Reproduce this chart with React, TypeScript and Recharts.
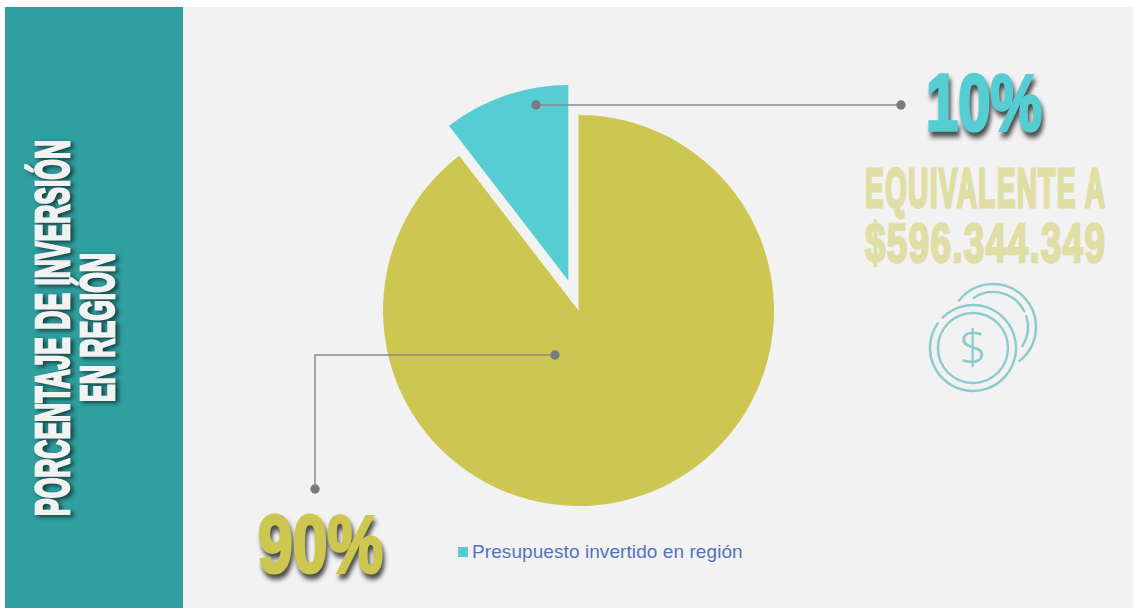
import { Cell, Legend, Pie, PieChart, Sector } from 'recharts'

const categories = ['Resto del presupuesto', 'Presupuesto invertido en región']
const shares = [89.55, 10.45]
const colors = ['#cdc752', '#55cdd3']

const chartData = categories.map((name, i) => ({ name, value: shares[i] }))
const total = shares.reduce((a, b) => a + b, 0)

const CONDENSED = '"Liberation Sans", sans-serif'
const RAD = Math.PI / 180

// leader lines: dot in the slice -> dot near the big number
const leaders = [
  [[555, 355], [315, 355], [315, 489]],
  [[536, 105], [901, 105]],
]
const bigText = [
  { x: 258, y: 572, len: 125, size: 66, stretch: 1.24 },
  { x: 926, y: 130, len: 116, size: 62, stretch: 1.3 },
]

function ExplodedSlice(props: any) {
  // only the small slice is pulled out of the pie
  const off = props.index === 1 ? 31.6 : 0
  const dx = off * Math.cos(-props.midAngle * RAD)
  const dy = off * Math.sin(-props.midAngle * RAD)
  return <Sector {...props} cx={props.cx + dx} cy={props.cy + dy} stroke="none" />
}

function Callout(props: any) {
  const { index, value } = props
  const pts = leaders[index]
  const t = bigText[index]
  const first = pts[0]
  const last = pts[pts.length - 1]
  return (
    <g>
      <polyline
        points={pts.map((p) => p.join(',')).join(' ')}
        fill="none"
        stroke="#8a8a8a"
        strokeWidth={1.5}
      />
      <circle cx={first[0]} cy={first[1]} r={4.7} fill="#7b7b7b" />
      <circle cx={last[0]} cy={last[1]} r={4.7} fill="#7b7b7b" />
      <text
        transform={`translate(${t.x},${t.y}) scale(1,${t.stretch})`}
        textLength={t.len}
        lengthAdjust="spacingAndGlyphs"
        fontFamily={CONDENSED}
        fontWeight={700}
        fontSize={t.size}
        fill={colors[index]}
        stroke={colors[index]}
        strokeWidth={2.5}
        style={{ filter: 'drop-shadow(2px 4px 2px rgba(0,0,0,0.7))' }}
      >
        {Math.round((value / total) * 100)}%
      </text>
    </g>
  )
}

function LegendRow({ payload }: any) {
  const items = (payload || []).filter((p: any) => p.value === categories[1])
  return (
    <div>
      {items.map((p: any) => (
        <div key={p.value} style={{ display: 'flex', alignItems: 'center' }}>
          <span style={{ width: 10, height: 10, background: colors[1], marginRight: 4 }} />
          <span
            style={{
              fontFamily: '"Liberation Sans", sans-serif',
              fontSize: 19,
              letterSpacing: 0.08,
              color: '#5272bd',
              whiteSpace: 'nowrap',
            }}
          >
            {p.value}
          </span>
        </div>
      ))}
    </div>
  )
}

// clockwise arc, angles in degrees from 12 o'clock
function arc(cx: number, cy: number, r: number, from: number, to: number) {
  const px = (a: number) => cx + r * Math.sin(a * RAD)
  const py = (a: number) => cy - r * Math.cos(a * RAD)
  const large = to - from > 180 ? 1 : 0
  return `M ${px(from)} ${py(from)} A ${r} ${r} 0 ${large} 1 ${px(to)} ${py(to)}`
}

function SideText() {
  const shadow = { filter: 'drop-shadow(3px 2px 2px rgba(0,0,0,0.6))' }
  const common = {
    fontFamily: CONDENSED,
    fontWeight: 700,
    fontSize: 27,
    fill: '#f2f2f2',
    stroke: '#f2f2f2',
    strokeWidth: 1.5,
    lengthAdjust: 'spacingAndGlyphs',
  }
  const sand = {
    fontFamily: CONDENSED,
    fontWeight: 700,
    fill: '#e0dea4',
    stroke: '#e0dea4',
    strokeWidth: 1.6,
    lengthAdjust: 'spacing',
    textLength: 240,
  }
  return (
    <svg width={1133} height={608} style={{ position: 'absolute', left: 0, top: 0 }}>
      <g style={shadow}>
        <text {...common} transform="translate(69,516) rotate(-90) scale(1,1.8)" textLength={376}>
          PORCENTAJE DE INVERSIÓN
        </text>
        <text {...common} transform="translate(114,402) rotate(-90) scale(1,1.8)" textLength={149}>
          EN REGIÓN
        </text>
      </g>
      <text {...sand} fontSize={28} transform="translate(865,207) scale(1,1.98)">
        EQUIVALENTE A
      </text>
      <text {...sand} fontSize={37} transform="translate(865,262) scale(1,1.5)">
        $596.344.349
      </text>
      <g fill="none" stroke="#8accca" strokeWidth={2.4} strokeLinecap="round">
        <circle cx={973} cy={348} r={35} />
        <path d={arc(973, 348, 43, -45, 305)} />
        <path d={arc(993, 327, 43, -52, 142)} />
        <path d={arc(993, 327, 35, -33, 63)} />
        <path d={arc(993, 327, 35, 72, 123)} />
      </g>
      <text
        x={973}
        y={364}
        textAnchor="middle"
        fontFamily='"Noto Sans", sans-serif'
        fontWeight={300}
        fontSize={48}
        fill="#8accca"
      >
        $
      </text>
    </svg>
  )
}

export default function App() {
  return (
    <div style={{ position: 'absolute', left: 0, top: 0, width: 1133, height: 608, background: '#fff', overflow: 'hidden' }}>
      <div style={{ position: 'absolute', left: 5, top: 7, width: 1128, height: 601, background: '#f2f2f2' }} />
      <div style={{ position: 'absolute', left: 5, top: 7, width: 177.5, height: 601, background: '#2f9f9f' }} />
      <SideText />
      <div style={{ position: 'absolute', left: 0, top: 0 }}>
        <PieChart width={1133} height={608} margin={{ top: 0, right: 0, bottom: 0, left: 0 }}>
          <Pie
            data={chartData}
            dataKey="value"
            nameKey="name"
            cx={578.5}
            cy={310.5}
            outerRadius={195.5}
            startAngle={90}
            endAngle={-270}
            stroke="none"
            shape={ExplodedSlice}
            label={Callout}
            labelLine={false}
            isAnimationActive={false}
          >
            {chartData.map((d, i) => (
              <Cell key={d.name} fill={colors[i]} />
            ))}
          </Pie>
          <Legend
            content={LegendRow}
            wrapperStyle={{ position: 'absolute', left: 458, top: 541, width: 320, bottom: 'auto' }}
          />
        </PieChart>
      </div>
    </div>
  )
}
